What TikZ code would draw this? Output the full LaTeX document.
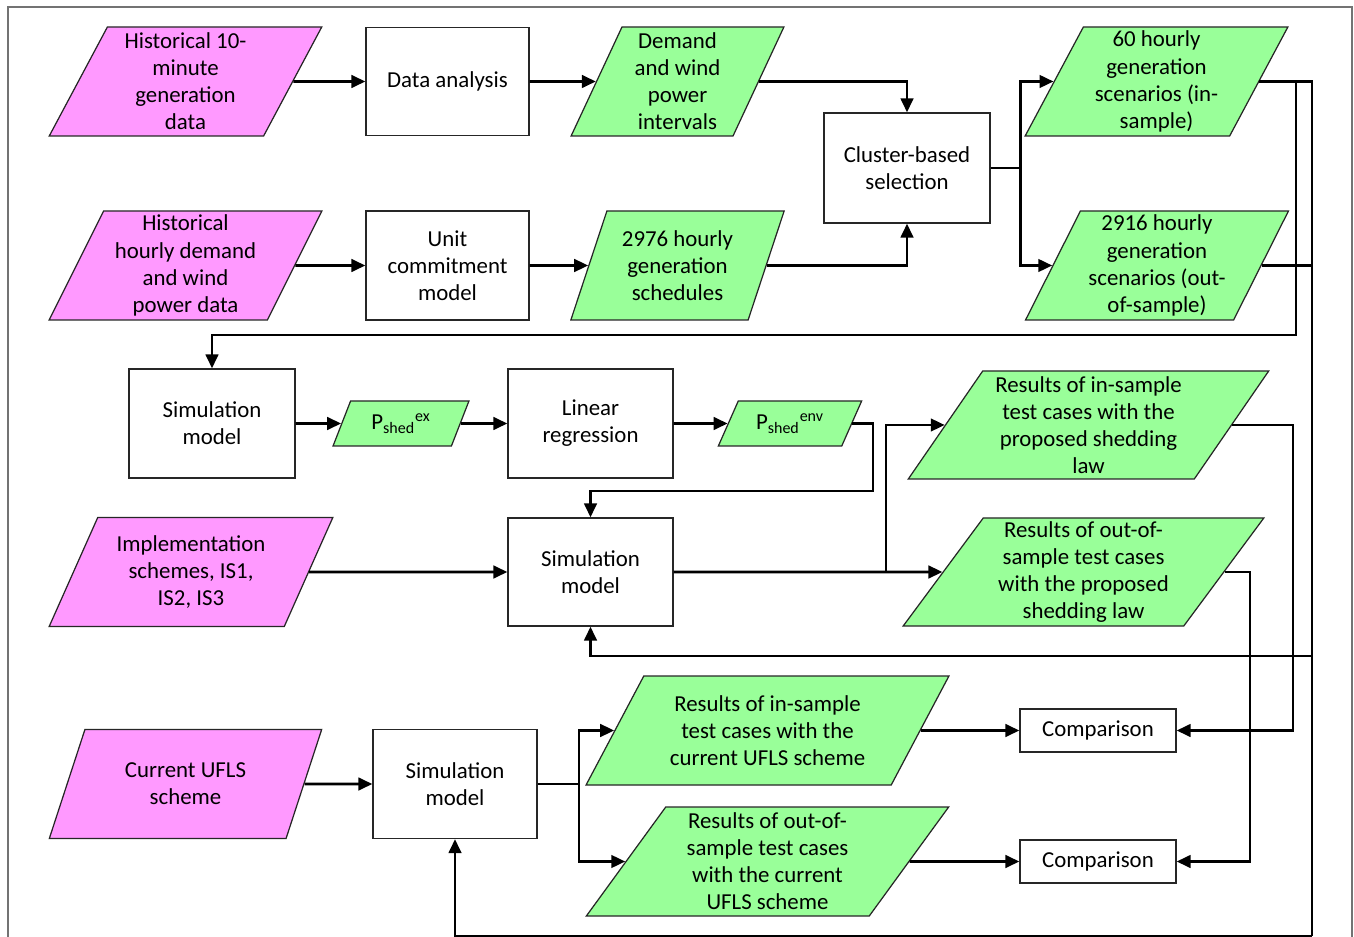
\documentclass[tikz,border=0pt]{standalone}
\usepackage{fontspec}
\setmainfont{Carlito}
\usepackage{xcolor}
\usepackage{tikz}
\usetikzlibrary{shapes.geometric,arrows.meta,positioning,calc}

\definecolor{inpink}{RGB}{255,153,255}
\definecolor{outgreen}{RGB}{153,255,153}
\newdimen\pu \pu=0.2mm

\begin{document}
\begin{tikzpicture}[x=0.2mm, y=-0.2mm,
    font=\fontsize{13}{15.4}\selectfont,
    proc/.style={draw=black!85, line width=0.7pt, rectangle, fill=white, align=center, inner sep=1pt},
    para/.style 2 args={draw=black!85, line width=0.7pt, trapezium, trapezium stretches=true,
        trapezium left angle=#1, trapezium right angle=#2, align=center, inner sep=0pt},
    inp/.style 2 args={para={#1}{#2}, fill=inpink},
    outp/.style 2 args={para={#1}{#2}, fill=outgreen},
    flow/.style={line width=1.6pt, -{Triangle[length=2.8mm,width=2.5mm]}},
    wire/.style={line width=1.6pt}]
    \useasboundingbox (0,0) rectangle (1354,937);
    \clip (0,0) rectangle (1354,937);

    % Frame
    \draw[black!55, line width=0.6pt] (8,945) -- (8,7) -- (1352,7) -- (1352,945);

    % Input data
    \node[inp={65}{115}, minimum width=273\pu, minimum height=109\pu] (hist10) at (185.5,81.5) {Historical 10-\\minute\\generation\\data};
    \node[inp={65}{115}, minimum width=273\pu, minimum height=109\pu] (histh) at (185.5,265.5) {Historical\\hourly demand\\and wind\\power data};
    \node[inp={62}{118}, minimum width=284\pu, minimum height=109\pu] (impl) at (191,572) {Implementation\\schemes, IS1,\\IS2, IS3};
    \node[inp={63}{117}, minimum width=273\pu, minimum height=109\pu] (current) at (185.5,784) {Current UFLS\\scheme};

    % Processes
    \node[proc, minimum width=163\pu, minimum height=108\pu] (da) at (447.5,81.5) {Data analysis};
    \node[proc, minimum width=163\pu, minimum height=109\pu] (uc) at (447.5,265.5) {Unit\\commitment\\model};
    \node[proc, minimum width=166\pu, minimum height=110\pu] (cluster) at (907,168) {Cluster-based\\selection};
    \node[proc, minimum width=166\pu, minimum height=109\pu] (sim1) at (212,423.5) {Simulation\\model};
    \node[proc, minimum width=165\pu, minimum height=109\pu] (linreg) at (590.5,423.5) {Linear\\regression};
    \node[proc, minimum width=165\pu, minimum height=108\pu] (sim2) at (590.5,572) {Simulation\\model};
    \node[proc, minimum width=164\pu, minimum height=109\pu] (sim3) at (455,784) {Simulation\\model};
    \node[proc, minimum width=156\pu, minimum height=43\pu] (comp1) at (1098,730.5) {Comparison};
    \node[proc, minimum width=156\pu, minimum height=43\pu] (comp2) at (1098,861.5) {Comparison};

    % Intermediate and final results
    \node[outp={68}{112}, minimum width=215\pu, minimum height=109\pu] (demand) at (677.5,81.5) {Demand\\and wind\\power\\intervals};
    \node[outp={68}{112}, minimum width=215\pu, minimum height=109\pu] (sched) at (677.5,265.5) {2976 hourly\\generation\\schedules};
    \node[outp={64}{116}, minimum width=263\pu, minimum height=109\pu] (in60) at (1156.5,81.5) {60 hourly\\generation\\scenarios (in-\\sample)};
    \node[outp={64}{116}, minimum width=263\pu, minimum height=109\pu] (out2916) at (1157,265.5) {2916 hourly\\generation\\scenarios (out-\\of-sample)};
    \node[outp={62}{118}, minimum width=136\pu, minimum height=45\pu] (pex) at (401,423.5) {P\textsubscript{shed}\textsuperscript{ex}};
    \node[outp={56}{124}, minimum width=144\pu, minimum height=45\pu] (penv) at (790,423.5) {P\textsubscript{shed}\textsuperscript{env}};
    \node[outp={56}{124}, minimum width=361\pu, minimum height=108\pu] (resinp) at (1088.5,425) {Results of in-sample\\test cases with the\\proposed shedding\\law};
    \node[outp={56}{124}, minimum width=361\pu, minimum height=108\pu] (resoutp) at (1083.5,572) {Results of out-of-\\sample test cases\\with the proposed\\shedding law};
    \node[outp={57}{123}, minimum width=363\pu, minimum height=109\pu] (resinc) at (767.5,730.5) {Results of in-sample\\test cases with the\\current UFLS scheme};
    \node[outp={57}{123}, minimum width=363\pu, minimum height=109\pu] (resoutc) at (767.5,861.5) {Results of out-of-\\sample test cases\\with the current\\UFLS scheme};

    % Bends
    \coordinate (busL) at (1296,335);
    \coordinate (busR) at (1312,656);
    \coordinate (busB) at (1312,936);
    \coordinate (penvdrop) at (873,491);
    \coordinate (split2) at (886,572);
    \coordinate (split3) at (579,784);
    \coordinate (cmp1in) at (1293,730.5);
    \coordinate (cmp2in) at (1250,861.5);

    % Arrows
    \draw[flow] (hist10.east) -- (da.west);
    \draw[flow] (da.east) -- (demand.west);
    \draw[flow] (demand.east) -| (cluster.north);
    \draw[flow] (histh.east) -- (uc.west);
    \draw[flow] (uc.east) -- (sched.west);
    \draw[flow] (sched.east) -| (cluster.south);
    \draw[flow] (cluster.east) -- ++(30,0) |- (in60.west);
    \draw[flow] (cluster.east) -- ++(30,0) |- (out2916.west);

    \draw[flow] (in60.east) -| (busL) -| (sim1.north);
    \draw[wire] (in60.east) -| (busB);
    \draw[wire] (out2916.east) -- (out2916.east -| busB);
    \draw[flow] (busR) -| (sim2.south);
    \draw[flow] (busB) -| (sim3.south);

    \draw[flow] (sim1.east) -- (pex.west);
    \draw[flow] (pex.east) -- (linreg.west);
    \draw[flow] (linreg.east) -- (penv.west);
    \draw[flow] (penv.east) -| (penvdrop) -| (sim2.north);

    \draw[flow] (impl.east) -- (sim2.west);
    \draw[flow] (sim2.east) -- (resoutp.west);
    \draw[flow] (split2) |- (resinp.west);
    \draw[flow] (resinp.east) -| (cmp1in) -- (comp1.east);
    \draw[flow] (resoutp.east) -| (cmp2in) -- (comp2.east);

    \draw[flow] (current.east) -- (sim3.west);
    \draw[flow] (sim3.east) -- (split3) |- (resinc.west);
    \draw[flow] (split3) |- (resoutc.west);
    \draw[flow] (resinc.east) -- (comp1.west);
    \draw[flow] (resoutc.east) -- (comp2.west);
\end{tikzpicture}
\end{document}
